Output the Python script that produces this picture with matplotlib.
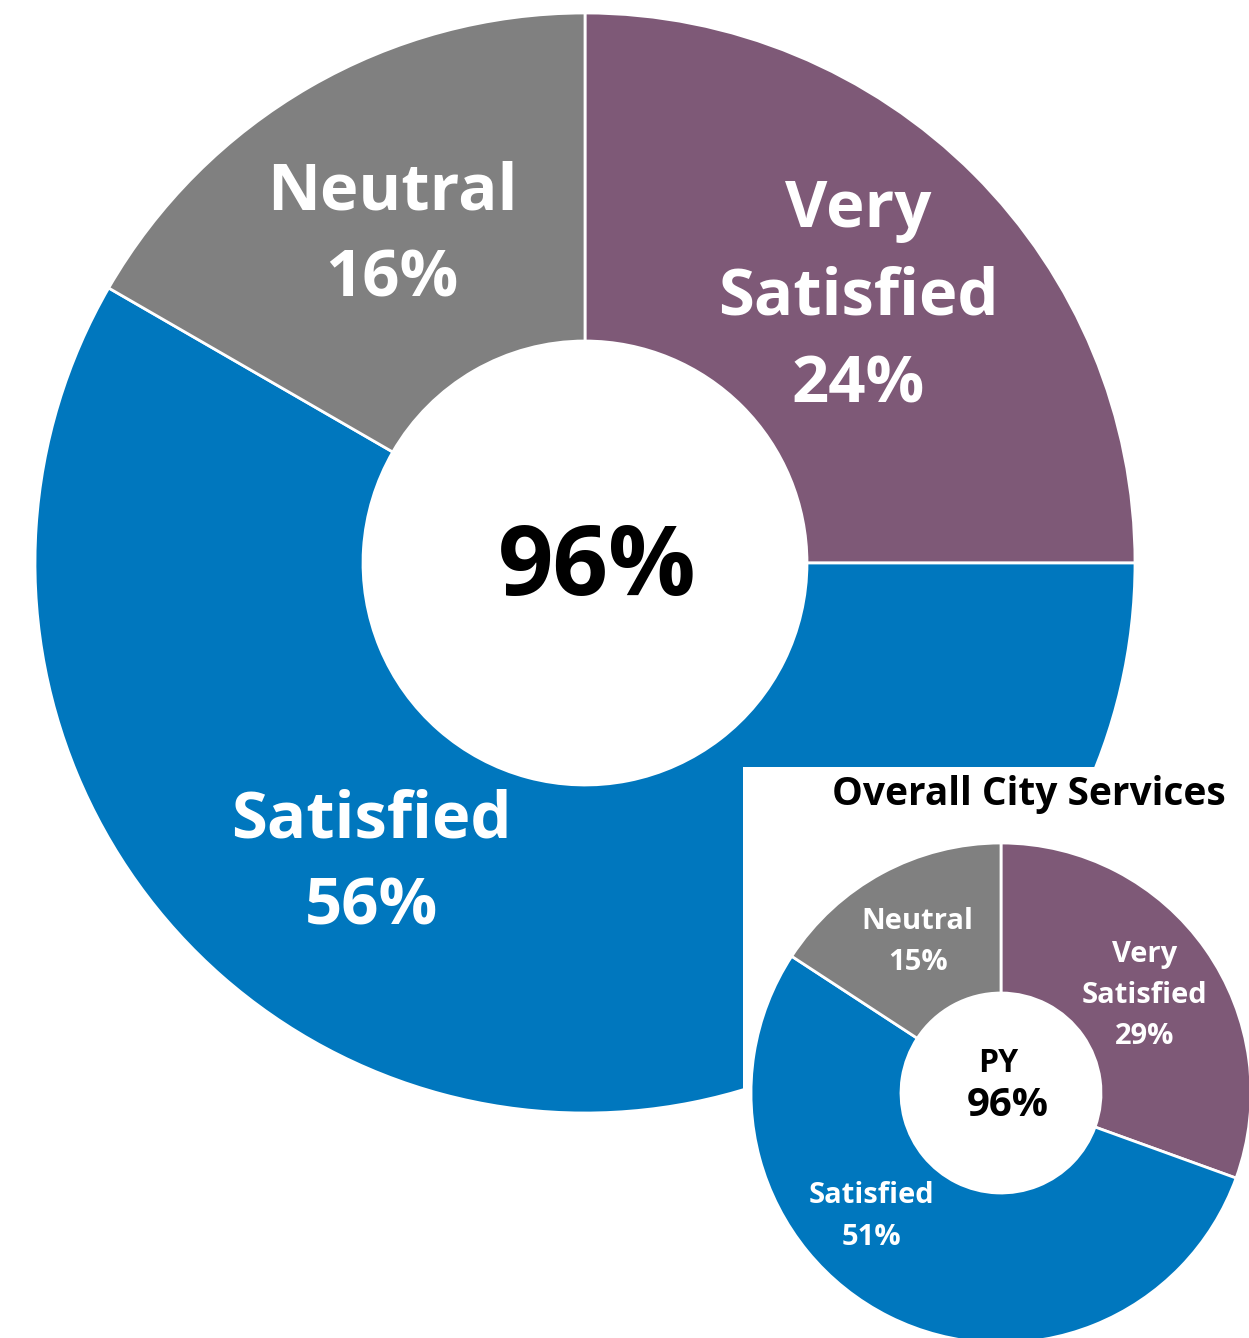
import numpy as np
import matplotlib.pyplot as plt
from matplotlib.patches import Rectangle

plt.rcParams['font.family'] = ['Open Sans', 'DejaVu Sans']

# Données
categories = ["Very\nSatisfied", "Satisfied", "Neutral"]
valeurs_main = [24, 56, 16]
valeurs_py = [29, 51, 15]
total_main = "96%"
py_label = "PY"
total_py = "96%"
titre_py = "Overall City Services"
couleurs = ["#7E5977", "#0077BE", "#808080"]

W, H = 1249, 1338

fig = plt.figure(figsize=(W / 100, H / 100), dpi=100)
ax = fig.add_axes([0, 0, 1, 1])


def donut(vals, cx, cy, r, largeur, fs, z, pos_sat, ls, dy):
    ax.pie(vals, colors=couleurs, startangle=90, counterclock=False,
           center=(cx, cy), radius=r, frame=True,
           wedgeprops=dict(width=largeur, edgecolor="white", linewidth=2, zorder=z))
    # étiquettes au milieu de l'anneau (sauf "Satisfied", décalé comme dans l'original)
    fr = np.array(vals) / sum(vals)
    bornes = 90 - 360 * np.concatenate([[0], np.cumsum(fr)])
    r_mid = r - largeur / 2
    for i, (cat, v) in enumerate(zip(categories, vals)):
        ang = (bornes[i] + bornes[i + 1]) / 2
        rr = r_mid
        if cat == "Satisfied":
            ang, rr = pos_sat[0], r_mid * pos_sat[1]
        x = cx + rr * np.cos(np.radians(ang))
        y = cy + rr * np.sin(np.radians(ang)) - dy
        ax.text(x, y, f"{cat}\n{v}%", ha="center", va="center", color="white",
                fontsize=fs, fontweight="bold", linespacing=ls, zorder=z + 1)


# Grand anneau
donut(valeurs_main, 585, H - 563, 550, 328, 47, 1, (234, 0.94), 1.46, 8)
ax.text(597, H - 569, total_main, ha="center", va="center", fontsize=70,
        fontweight="bold", color="black", zorder=2)

# Encadré année précédente
ax.add_patch(Rectangle((743, 0), W - 743, H - 767, facecolor="white",
                       edgecolor="none", zorder=5))
ax.text(1029, H - 794, titre_py, ha="center", va="center", fontsize=28,
        fontweight="bold", color="black", zorder=6)
donut(valeurs_py, 1001, H - 1093, 250, 150, 21, 6, (223, 1.01), 1.55, 3)
ax.text(998, H - 1063, py_label, ha="center", va="center", fontsize=23,
        fontweight="bold", color="black", zorder=8)
ax.text(1008, H - 1105, total_py, ha="center", va="center", fontsize=29,
        fontweight="bold", color="black", zorder=8)

ax.set_xlim(0, W)
ax.set_ylim(0, H)
ax.set_aspect("equal")
ax.axis("off")
fig.savefig("out.png", dpi=100)
